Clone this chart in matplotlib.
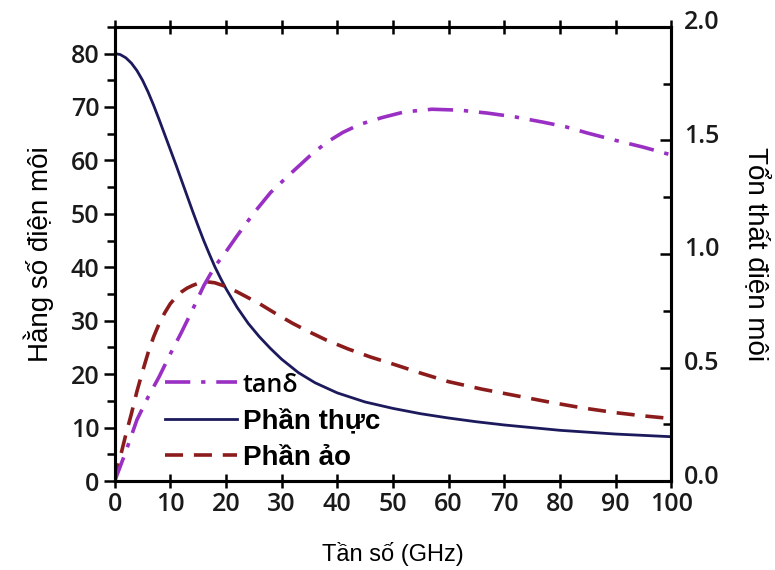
import numpy as np
import matplotlib.pyplot as plt
import matplotlib.transforms as mtrans
from matplotlib.ticker import MultipleLocator

# Datos
f_real = [0, 1, 2, 3, 4, 5, 6, 7, 8, 9, 10, 11, 12, 13, 14, 15, 16, 17, 18, 19, 20,
          22, 24, 26, 28, 30, 33, 36, 40, 45, 50, 55, 60, 65, 70, 80, 90, 100]
e_real = [80, 79.8, 79.2, 78.2, 76.8, 75, 72.8, 70.3, 67.6, 64.8, 62, 59.2, 56.3, 53.4, 50.5, 47.7, 45, 42.5, 40.1, 38, 36,
          32.5, 29.5, 27, 24.8, 22.8, 20.3, 18.4, 16.5, 14.8, 13.6, 12.6, 11.8, 11.1, 10.5, 9.5, 8.8, 8.3]

f_imag = [0, 1, 2, 3, 4, 5, 6, 7, 8, 9, 10, 11, 12, 13, 14, 15, 16.5, 18, 20, 22, 24, 26, 29, 32, 35,
          38, 42, 46, 50, 55, 60, 66, 72, 78, 84, 90, 95, 100]
e_imag = [0, 4.5, 8.7, 12.6, 16.8, 20.5, 24, 27, 29.5, 31.5, 33.2, 34.4, 35.4, 36.1, 36.6, 37, 37.3, 37.1, 36.4, 35.4, 34.3, 33.2, 31.3, 29.5, 27.9,
          26.4, 24.7, 23.2, 21.9, 20.2, 18.6, 17.2, 16.0, 14.8, 13.7, 12.8, 12.2, 11.7]

f_tan = [0, 2, 4, 6, 8, 10, 12, 14, 16, 18, 20, 22, 25, 28, 31, 35, 38, 41, 44, 48, 52, 57, 62, 67, 72, 77, 81, 85, 90, 95, 100]
tan_d = [0, 0.13, 0.27, 0.37, 0.46, 0.56, 0.655, 0.755, 0.86, 0.945, 1.01, 1.08, 1.18, 1.27, 1.34, 1.43, 1.49, 1.535, 1.57, 1.60, 1.625, 1.637, 1.633, 1.62, 1.603, 1.58, 1.56, 1.532, 1.50, 1.47, 1.436]

clr_real = '#1c1a5c'
clr_imag = '#8c1c1c'
clr_tan = '#9a2fc4'
tick_font = ['Open Sans', 'DejaVu Sans']
lab_font = ['Liberation Sans', 'DejaVu Sans']

fig = plt.figure(figsize=(7.75, 5.7), dpi=100)
ax = fig.add_axes([0.148, 0.156, 0.718, 0.797])
ax2 = ax.twinx()

l1, = ax2.plot(f_tan, tan_d, color=clr_tan, lw=2.6, dashes=[7, 3, 1.2, 3], label='tanδ')
l2, = ax.plot(f_real, e_real, color=clr_real, lw=2.0, label='Phần thực')
l3, = ax.plot(f_imag, e_imag, color=clr_imag, lw=2.6, dashes=[5, 3], label='Phần ảo')

ax.set_xlim(0, 100); ax.set_ylim(0, 85)
ax2.set_ylim(0, 2.0)
ax.xaxis.set_major_locator(MultipleLocator(10))
ax.set_yticks(np.arange(0, 81, 10))
ax.yaxis.set_minor_locator(MultipleLocator(5))
ax2.yaxis.set_major_locator(MultipleLocator(0.5))
ax2.yaxis.set_minor_locator(MultipleLocator(0.25))

ax.tick_params(axis='y', which='both', direction='out', width=1.8, labelsize=18, pad=3)
ax.tick_params(axis='y', which='major', length=8)
ax.tick_params(axis='y', which='minor', length=6)
ax.tick_params(axis='x', which='major', direction='inout', length=10, width=1.8, labelsize=18, pad=3)
ax.tick_params(axis='x', which='major', top=True)
ax2.tick_params(axis='y', which='both', direction='in', width=1.8, labelsize=18, pad=9)
ax2.tick_params(axis='y', which='major', length=8)
ax2.tick_params(axis='y', which='minor', length=6)
ax2.yaxis.set_major_formatter(plt.FormatStrFormatter('%.1f'))
for a in (ax, ax2):
    for s in a.spines.values():
        s.set_linewidth(2.2)
for lbl in ax.get_xticklabels() + ax.get_yticklabels() + ax2.get_yticklabels():
    lbl.set_family(tick_font)
    lbl.set_fontweight('semibold')
    lbl.set_color('#1a1a1a')
# subir un poco las etiquetas de la derecha para que 0.0 no choque con 100
up = mtrans.ScaledTranslation(0, 5/72, fig.dpi_scale_trans)
for lbl in ax2.get_yticklabels():
    lbl.set_transform(lbl.get_transform() + up)

ax.set_xlabel('Tần số (GHz)', fontsize=17, family=lab_font, labelpad=18)
ax.set_ylabel('Hằng số điện môi', fontsize=20, family=lab_font, labelpad=12)
ax2.set_ylabel('Tổn thất điện môi', fontsize=20, family=lab_font, rotation=270, labelpad=36)

leg = ax.legend(handles=[l1, l2, l3], loc='lower left', bbox_to_anchor=(0.09, 0.022),
                frameon=False, borderpad=0, borderaxespad=0,
                handlelength=2.6, handletextpad=0.2, labelspacing=0.38,
                prop={'family': lab_font, 'size': 20, 'weight': 'bold'})
t0 = leg.get_texts()[0]
t0.set_family(tick_font)
t0.set_fontweight('semibold')
t0.set_fontsize(18)

fig.savefig('out.png', dpi=100)
